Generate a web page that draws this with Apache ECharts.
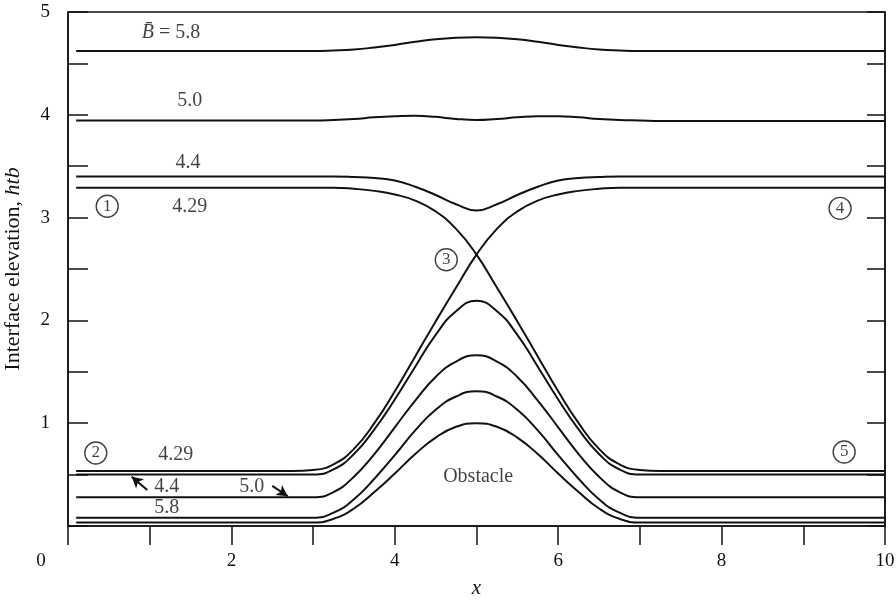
<!DOCTYPE html>
<html>
<head>
<meta charset="utf-8">
<script src="https://cdn.jsdelivr.net/npm/echarts@6/dist/echarts.min.js"></script>
<style>
html,body{margin:0;padding:0;background:#fff;}
#chart{width:896px;height:601px;}
</style>
</head>
<body>
<div id="chart"></div>
<script>
// ---- data ----
const xs = [0.1, 1, 2, 2.5, 2.75, 3, 3.25, 3.5, 3.75, 4, 4.25, 4.5, 4.75, 5,
            5.25, 5.5, 5.75, 6, 6.25, 6.5, 6.75, 7, 7.25, 7.5, 8, 9, 10];

const obstacle = [0.035,0.035,0.035,0.035,0.035,0.035,0.07,0.17,0.33,0.51,0.70,0.86,0.965,1.0,
                  0.965,0.86,0.70,0.51,0.33,0.17,0.07,0.035,0.035,0.035,0.035,0.035,0.035];
const b58Low = [0.08,0.08,0.08,0.08,0.08,0.08,0.13,0.26,0.46,0.69,0.93,1.13,1.26,1.31,
                1.26,1.13,0.93,0.69,0.46,0.26,0.13,0.08,0.08,0.08,0.08,0.08,0.08];
const b50Low = [0.28,0.28,0.28,0.28,0.28,0.28,0.33,0.48,0.70,0.96,1.22,1.45,1.60,1.66,
                1.60,1.45,1.22,0.96,0.70,0.48,0.33,0.28,0.28,0.28,0.28,0.28,0.28];
const b44Low = [0.50,0.50,0.50,0.50,0.50,0.50,0.55,0.70,0.94,1.23,1.55,1.86,2.09,2.19,
                2.09,1.86,1.55,1.23,0.94,0.70,0.55,0.50,0.50,0.50,0.50,0.50,0.50];
const b429Rise = [0.535,0.535,0.535,0.535,0.535,0.545,0.60,0.75,1.00,1.31,1.65,1.99,2.32,2.64,
                  2.89,3.06,3.165,3.225,3.26,3.28,3.29,3.29,3.29,3.29,3.29,3.29,3.29];
const b429Fall = [3.29,3.29,3.29,3.29,3.29,3.29,3.29,3.28,3.26,3.225,3.165,3.06,2.89,2.64,
                  2.32,1.99,1.65,1.31,1.00,0.75,0.60,0.545,0.535,0.535,0.535,0.535,0.535];
const b44Up = [3.40,3.40,3.40,3.40,3.40,3.40,3.40,3.395,3.385,3.36,3.30,3.22,3.13,3.07,
               3.13,3.22,3.30,3.36,3.385,3.395,3.40,3.40,3.40,3.40,3.40,3.40,3.40];
const b50Up = [3.945,3.945,3.945,3.945,3.945,3.945,3.95,3.96,3.975,3.985,3.99,3.98,3.96,3.95,
               3.96,3.975,3.985,3.985,3.975,3.96,3.95,3.945,3.94,3.94,3.94,3.94,3.94];
const b58Up = [4.62,4.62,4.62,4.62,4.62,4.62,4.625,4.635,4.655,4.68,4.71,4.735,4.75,4.755,
               4.75,4.735,4.71,4.68,4.655,4.635,4.625,4.62,4.62,4.62,4.62,4.62,4.62];

const xTickLabels = [0, 2, 4, 6, 8, 10];
const yTickLabels = [1, 2, 3, 4, 5];

// annotations: [x, y, text, kind]
const notes = [
  [1.26, 4.80, '{i|B\u0304} = 5.8', 't'],
  [1.49, 4.14, '5.0', 't'],
  [1.47, 3.53, '4.4', 't'],
  [1.49, 3.11, '4.29', 't'],
  [0.48, 3.11, '1', 'c'],
  [9.45, 3.09, '4', 'c'],
  [4.63, 2.59, '3', 'c'],
  [0.34, 0.71, '2', 'c'],
  [9.50, 0.72, '5', 'c'],
  [1.32, 0.69, '4.29', 't'],
  [1.21, 0.38, '4.4', 't'],
  [2.25, 0.38, '5.0', 't'],
  [1.21, 0.18, '5.8', 't'],
  [5.02, 0.48, 'Obstacle', 't']
];
const arrows = [
  [[0.97, 0.35], [0.78, 0.48]],
  [[2.50, 0.39], [2.69, 0.29]]
];

const curves = [obstacle, b58Low, b50Low, b44Low, b429Rise, b429Fall, b44Up, b50Up, b58Up];

const FONT = 'Liberation Serif, DejaVu Serif, serif';
const chart = echarts.init(document.getElementById('chart'), null, {renderer: 'canvas'});

const series = curves.map(vals => ({
  type: 'line',
  data: xs.map((x, i) => [x, vals[i]]),
  smooth: 0.5,
  symbol: 'none',
  silent: true,
  lineStyle: {color: '#111', width: 2},
  z: 3
}));

series.push({
  type: 'scatter',
  symbolSize: 0,
  silent: true,
  data: notes.map(n => ({
    value: [n[0], n[1]],
    label: {
      show: true,
      position: 'inside',
      formatter: n[3] === 'c' ? '{c|' + n[2] + '}' : n[2],
      fontFamily: FONT,
      fontSize: 20,
      color: '#111',
      rich: {
        i: {fontFamily: FONT, fontStyle: 'italic', fontSize: 20, color: '#111'},
        c: {fontFamily: FONT, fontSize: 17, color: '#111', width: 22, height: 22, lineHeight: 22,
            align: 'center', borderColor: '#111', borderWidth: 1.4, borderRadius: 12}
      }
    }
  })),
  markLine: {
    silent: true,
    symbol: ['none', 'arrow'],
    symbolSize: [9, 11],
    label: {show: false},
    lineStyle: {color: '#111', width: 2, type: 'solid'},
    data: arrows.map(a => [{coord: a[0]}, {coord: a[1]}])
  },
  z: 5
});

chart.setOption({
  animation: false,
  backgroundColor: '#fff',
  grid: {left: 68, right: 11, top: 12, bottom: 75, outerBoundsMode: 'none', containLabel: false,
         show: true, borderColor: '#111', borderWidth: 1.5, backgroundColor: 'transparent'},
  xAxis: [{
    type: 'value', min: 0, max: 10, interval: 1,
    name: 'x', nameLocation: 'middle', nameGap: 52,
    nameTextStyle: {fontFamily: FONT, fontStyle: 'italic', fontSize: 21, color: '#111'},
    axisLine: {show: true, lineStyle: {color: '#111', width: 1.5}},
    axisTick: {show: true, inside: false, length: 19, lineStyle: {color: '#111', width: 1.5}},
    splitLine: {show: false},
    axisLabel: {
      margin: 26, fontFamily: FONT, fontSize: 19, color: '#111', showMinLabel: true, showMaxLabel: true,
      formatter: v => xTickLabels.indexOf(v) < 0 ? '' : (v === 0 ? '{z|0}' : String(v)),
      rich: {z: {fontFamily: FONT, fontSize: 19, color: '#111', padding: [0, 54, 0, 0]}}
    }
  }],
  yAxis: [{
    type: 'value', min: 0, max: 5, interval: 0.5, position: 'left',
    name: '{t|Interface elevation, }{i|htb}', nameLocation: 'middle', nameGap: 44, nameRotate: 90,
    nameTextStyle: {
      rich: {
        t: {fontFamily: FONT, fontSize: 22, color: '#111'},
        i: {fontFamily: FONT, fontSize: 22, fontStyle: 'italic', color: '#111'}
      }
    },
    axisLine: {show: true, lineStyle: {color: '#111', width: 1.5}},
    axisTick: {show: true, inside: true, length: 20, lineStyle: {color: '#111', width: 1.5}},
    splitLine: {show: false},
    axisLabel: {
      margin: 18, fontFamily: FONT, fontSize: 19, color: '#111',
      formatter: v => yTickLabels.indexOf(v) < 0 ? '' : String(v)
    }
  }, {
    type: 'value', min: 0, max: 5, interval: 0.5, position: 'right',
    axisLine: {show: true, lineStyle: {color: '#111', width: 1.5}},
    axisTick: {show: true, inside: true, length: 18, lineStyle: {color: '#111', width: 1.5}},
    splitLine: {show: false},
    axisLabel: {show: false}
  }],
  series: series
});
</script>
</body>
</html>
